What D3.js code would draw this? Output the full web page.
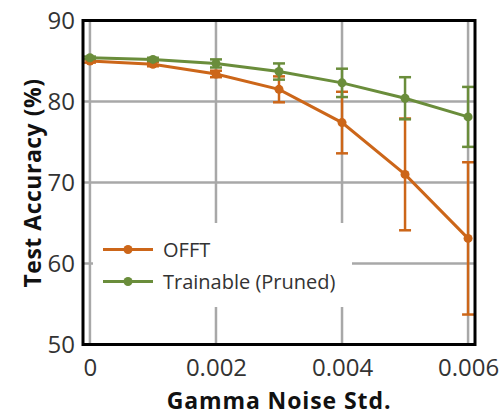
<!DOCTYPE html>
<html>
<head>
<meta charset="utf-8">
<script src="https://cdn.jsdelivr.net/npm/d3@7"></script>
<style>
  html, body { margin: 0; padding: 0; background: #fff; }
  svg { display: block; }
</style>
</head>
<body>
<svg id="chart" width="504" height="415"></svg>
<script>
const noise = [0, 0.001, 0.002, 0.003, 0.004, 0.005, 0.006];
const offtMean = [85.0, 84.6, 83.4, 81.5, 77.4, 71.0, 63.1];
const offtErr  = [0.2, 0.25, 0.4, 1.6, 3.8, 6.9, 9.4];
const trainMean = [85.4, 85.2, 84.7, 83.7, 82.3, 80.4, 78.1];
const trainErr  = [0.15, 0.2, 0.5, 1.0, 1.75, 2.6, 3.7];
const xTicks = [0, 0.002, 0.004, 0.006];
const xTickLabels = ["0", "0.002", "0.004", "0.006"];
const yTicks = [50, 60, 70, 80, 90];
const seriesNames = ["OFFT", "Trainable (Pruned)"];
const seriesColors = ["#cc6619", "#6a8d3b"];

const svg = d3.select("#chart");
const L = 83, R = 475, T = 20.5, B = 344.5;
const x = d3.scaleLinear().domain([-0.00011, 0.00611]).range([L, R]);
const y = d3.scaleLinear().domain([50, 90]).range([B, T]);
const font = "'Open Sans', 'Noto Sans', sans-serif";
const textCol = "#333";

// gridlines
const grid = svg.append("g");
grid.selectAll("line.v").data(xTicks).join("line")
  .attr("x1", d => x(d)).attr("x2", d => x(d))
  .attr("y1", T).attr("y2", B)
  .attr("stroke", "#a8a8a8").attr("stroke-width", 2.5);
grid.selectAll("line.h").data(yTicks.slice(1, -1)).join("line")
  .attr("x1", L).attr("x2", R)
  .attr("y1", d => y(d)).attr("y2", d => y(d))
  .attr("stroke", "#a8a8a8").attr("stroke-width", 2.5);

// legend background box (covers gridlines)
svg.append("rect").attr("x", 93).attr("y", 223).attr("width", 259).attr("height", 84)
  .attr("fill", "#fff");

// axes (tick labels only)
const xAxis = d3.axisBottom(x).tickValues(xTicks).tickFormat((d, i) => xTickLabels[i]).tickSize(0).tickPadding(14);
const gx = svg.append("g").attr("transform", `translate(0,${B})`).call(xAxis);
gx.select(".domain").remove();
gx.selectAll("text").attr("font-family", font).attr("font-size", 24).attr("fill", textCol);

const yAxis = d3.axisLeft(y).tickValues(yTicks).tickFormat(d3.format("d")).tickSize(0).tickPadding(8);
const gy = svg.append("g").attr("transform", `translate(${L},0)`).call(yAxis);
gy.select(".domain").remove();
gy.selectAll("text").attr("font-family", font).attr("font-size", 24).attr("fill", textCol);

// series
const series = [
  { name: seriesNames[0], color: seriesColors[0], mean: offtMean, err: offtErr },
  { name: seriesNames[1], color: seriesColors[1], mean: trainMean, err: trainErr }
];
const line = d3.line().x(d => x(d[0])).y(d => y(d[1]));
const capW = 6;
series.forEach(s => {
  const pts = noise.map((n, i) => [n, s.mean[i], s.err[i]]);
  const g = svg.append("g");
  g.selectAll("line.eb").data(pts).join("line")
    .attr("x1", d => x(d[0])).attr("x2", d => x(d[0]))
    .attr("y1", d => y(d[1] - d[2])).attr("y2", d => y(d[1] + d[2]))
    .attr("stroke", s.color).attr("stroke-width", 2.5);
  g.selectAll("line.capt").data(pts).join("line")
    .attr("x1", d => x(d[0]) - capW).attr("x2", d => x(d[0]) + capW)
    .attr("y1", d => y(d[1] + d[2])).attr("y2", d => y(d[1] + d[2]))
    .attr("stroke", s.color).attr("stroke-width", 2.5);
  g.selectAll("line.capb").data(pts).join("line")
    .attr("x1", d => x(d[0]) - capW).attr("x2", d => x(d[0]) + capW)
    .attr("y1", d => y(d[1] - d[2])).attr("y2", d => y(d[1] - d[2]))
    .attr("stroke", s.color).attr("stroke-width", 2.5);
  g.append("path").datum(pts).attr("d", line)
    .attr("fill", "none").attr("stroke", s.color).attr("stroke-width", 3);
  g.selectAll("circle").data(pts).join("circle")
    .attr("cx", d => x(d[0])).attr("cy", d => y(d[1])).attr("r", 4.5)
    .attr("fill", s.color);
});

// frame
svg.append("rect").attr("x", L).attr("y", T).attr("width", R - L).attr("height", B - T)
  .attr("fill", "none").attr("stroke", "#000").attr("stroke-width", 3);

// legend
const leg = svg.append("g");
series.forEach((s, i) => {
  const ly = 249.5 + i * 32;
  leg.append("line").attr("x1", 103).attr("x2", 153).attr("y1", ly).attr("y2", ly)
    .attr("stroke", s.color).attr("stroke-width", 3);
  leg.append("circle").attr("cx", 128).attr("cy", ly).attr("r", 4.5).attr("fill", s.color);
  leg.append("text").attr("x", 163).attr("y", ly).attr("dy", "0.35em")
    .attr("font-family", font).attr("font-size", 20).attr("fill", textCol).text(s.name);
});

// axis titles
svg.append("text").attr("x", 279).attr("y", 408.5)
  .attr("text-anchor", "middle").attr("font-family", font).attr("font-weight", 700)
  .attr("font-size", 23).attr("letter-spacing", 0.9).attr("fill", "#111").text("Gamma Noise Std.");
svg.append("text").attr("transform", "translate(41,183) rotate(-90)")
  .attr("text-anchor", "middle").attr("font-family", font).attr("font-weight", 700)
  .attr("font-size", 23).attr("letter-spacing", 0.5).attr("fill", "#111").text("Test Accuracy (%)");
</script>
</body>
</html>
